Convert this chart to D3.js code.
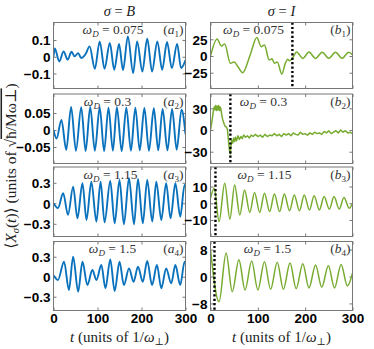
<!DOCTYPE html>
<html><head><meta charset="utf-8">
<script src="https://cdn.jsdelivr.net/npm/d3@7"></script>
<style>body{margin:0;background:#fff}</style>
</head><body><svg id="c" width="374" height="349"></svg>
<script>
// ---------------- data ----------------
const xTicks = [0, 100, 200, 300];

// (a1) sigma = B, omega_D = 0.075
const a1T = [0,3,13,23,32,41,48,56,63,73,82,94,105,116,128,138,149,158,169,181,190,202,213,224,236,247,258,269,281,290,300];
const a1V = [0,0.05,-0.028,0.032,-0.018,0.03,0.002,0.022,-0.008,0.016,0.062,-0.072,0.092,-0.072,0.082,-0.078,0.076,-0.08,0.122,-0.098,0.092,-0.088,0.108,-0.088,0.092,-0.078,0.088,-0.068,0.076,-0.068,-0.02];
// (a2) omega_D = 0.3
const a2T = [0,7,18,29,40,51,63,73,83.5,94,105,115,125,135,144,155,165.5,176,186,196,206.5,217,228,238,248,259,269.5,280,291,300];
const a2V = [0,-0.025,0.03,-0.058,0.068,-0.061,0.067,-0.062,0.068,-0.061,0.067,-0.062,0.066,-0.061,0.067,-0.062,0.066,-0.061,0.066,-0.06,0.065,-0.061,0.064,-0.06,0.062,-0.06,0.062,-0.058,0.06,-0.012];
// (a3) omega_D = 1.15
const a3T = [0,10,22,33,44.6,54.4,65.8,75,86,97.5,107,116,129,139,150,160,171.6,183,192,203,213,224.5,233.6,245,256,266,277,288,298,300];
const a3V = [0,-0.07,0.146,-0.17,0.244,-0.22,0.293,-0.244,0.317,-0.268,0.317,-0.278,0.327,-0.293,0.341,-0.307,0.366,-0.307,0.356,-0.293,0.341,-0.268,0.317,-0.244,0.293,-0.22,0.293,-0.195,0.268,0.25];
// (a4) omega_D = 1.5
const a4T = [0,10,24,35,44.6,56,65.8,77,88.4,97.5,108.8,118,129,139,150,160,171.6,182,192,203,213,224,235,245,256,267.6,277,288,298,300];
const a4V = [0.02,-0.05,0.225,-0.2,0.3,-0.225,0.225,-0.125,0.1,-0.05,0.175,-0.175,0.26,-0.215,0.225,-0.125,0.125,-0.075,0.15,-0.075,0.235,-0.125,0.175,-0.175,0.125,-0.1,0.175,-0.125,0.225,0.2];

// (b1) sigma = I, omega_D = 0.075
const b1T = [0,14,23,30,42,50,58,68,84,98,107,114,124,130,135,141,150.7,158,163,167,173,182,195,208,222,236,250,264,278,292,300];
const b1V = [0,25.5,15,18,-11,-9,-16,-25,2,27.5,14,16.5,-6,-4,-11,-9,-27,-11,-5,-7,-3.5,6,-3.6,5.8,-3.6,5.7,-3.4,5.6,-3.4,5.7,2];
// (b2) omega_D = 0.3
const b2T = [0,3,6,8,10,11,13,14,16,17,19,20,22,24,26,29,31,34,36,38,40,42,43,45,47,49,51,53,55,58,61,64,67,70,74,78,82,86,90,95,100,105,110,115,120,125,130,135,140,145,150,155,160,165,170,175,180,185,190,195,200,205,210,215,220,225,230,235,240,245,250,255,260,265,270,275,280,285,290,295,300];
const b2V = [0,12,26,32,28,34,27,33,28,34,27,32,29,20,14,8,5,4,0,-15,-28,-33,-22,-14,-18,-11,-16,-10,-15,-8,-13,-9,-12,-7,-10,-8,-11,-7,-9,-6,-9,-7,-10,-6,-9,-7,-8,-5,-8,-6,-9,-5,-7,-5,-8,-4,-6,-7,-3,-6,-5,-7,-4,-6,-3,-5,-4,-6,-2,-4,-1,-5,-3,-1,-4,0,-3,-1,-4,-3,-5];
// (b3) omega_D = 1.15
const b3T = [0,8,18,30,41,51,62,72,83,93,104,114,125,135,146,156,167,177,188,198,209,219,230,240,251,261,272,282,293,300];
const b3V = [3,9,-11,12,-9.5,11,-7,8,-5.5,6.5,-5.5,6,-5,5.5,-5,5.5,-4.5,5,-4.5,5,-4,4.5,-4,4,-3.5,4,-3.5,3.5,-3,0];
// (b4) omega_D = 1.5
const b4T = [0,18,33,46,60,73,87,100,114,127,141,154,168,181,195,208,222,235,249,262,276,289,300];
const b4V = [8,-7.5,7,-4.5,5,-4,4.6,-4,4.4,-3.8,4.2,-3.8,4,-3.6,3.8,-3.4,3.4,-3.2,3.2,-3.4,3.6,-2.8,1];

// y-axis extents and tick values
const a1Dom = [-0.19, 0.205],  a1Ticks = [-0.1, 0, 0.1],   a1Lab = ["\u22120.1", "0", "0.1"];
const a2Dom = [-0.0985, 0.106],a2Ticks = [-0.05, 0, 0.05], a2Lab = ["\u22120.05", "0", "0.05"];
const a3Dom = [-0.486, 0.531], a3Ticks = [-0.3, 0, 0.3],   a3Lab = ["\u22120.3", "0", "0.3"];
const a4Dom = [-0.507, 0.528], a4Ticks = [-0.3, 0, 0.3],   a4Lab = ["\u22120.3", "0", "0.3"];
const b1Dom = [-48.6, 50.1],   b1Ticks = [-25, 0, 25],     b1Lab = ["\u221225", "0", "25"];
const b2Dom = [-46.3, 49.8],   b2Ticks = [-30, 0, 30],     b2Lab = ["\u221230", "0", "30"];
const b3Dom = [-19.9, 21.7],   b3Ticks = [-10, 0, 10],     b3Lab = ["\u221210", "0", "10"];
const b4Dom = [-10.1, 10.4],   b4Ticks = [-8, 0, 8],       b4Lab = ["\u22128", "0", "8"];

const omegas = ["0.075", "0.3", "1.15", "1.5"];
const vlineT = [173, 42, 10.5, 8.4];   // dotted markers in sigma = I panels

// ---------------- layout ----------------
const svg = d3.select("#c");
const cols = [{x0: 53.5, x1: 185.5}, {x0: 210.5, x1: 352.5}];
const rows = [{y0: 22.5, y1: 88.5}, {y0: 94, y1: 163.5}, {y0: 167, y1: 236.5}, {y0: 241.5, y1: 310.5}];
const labCx = [[113, 107.5, 110.5, 112.5], [253.5, 263.5, 264.5, 267.5]];
const blue = "#0a72bd", green = "#77ac30";
const serif = "'Liberation Serif', 'DejaVu Serif', serif";
const sans = "'Liberation Sans', Arial, sans-serif";

const panels = [
  {T: a1T, V: a1V, dom: a1Dom, ticks: a1Ticks, lab: a1Lab},
  {T: a2T, V: a2V, dom: a2Dom, ticks: a2Ticks, lab: a2Lab},
  {T: a3T, V: a3V, dom: a3Dom, ticks: a3Ticks, lab: a3Lab},
  {T: a4T, V: a4V, dom: a4Dom, ticks: a4Ticks, lab: a4Lab},
  {T: b1T, V: b1V, dom: b1Dom, ticks: b1Ticks, lab: b1Lab},
  {T: b2T, V: b2V, dom: b2Dom, ticks: b2Ticks, lab: b2Lab},
  {T: b3T, V: b3V, dom: b3Dom, ticks: b3Ticks, lab: b3Lab},
  {T: b4T, V: b4V, dom: b4Dom, ticks: b4Ticks, lab: b4Lab}
];

panels.forEach((p, i) => {
  const c = Math.floor(i / 4), r = i % 4;
  const {x0, x1} = cols[c], {y0, y1} = rows[r];
  const x = d3.scaleLinear().domain([0, 300]).range([x0, x1]);
  const y = d3.scaleLinear().domain(p.dom).range([y1, y0]);
  const g = svg.append("g");
  const clipId = "clip" + i;
  svg.append("clipPath").attr("id", clipId).append("rect")
    .attr("x", x0).attr("y", y0).attr("width", x1 - x0).attr("height", y1 - y0);

  // inner ticks (left/right)
  const yl = d3.axisLeft(y).tickValues(p.ticks).tickSize(-3).tickFormat((d, k) => p.lab[k]);
  const gyl = g.append("g").attr("transform", `translate(${x0},0)`).call(yl);
  gyl.select(".domain").remove();
  gyl.selectAll("line").attr("stroke", "#777");
  gyl.selectAll("text").attr("x", -3).attr("dy", "0.36em")
    .attr("font-family", sans).attr("font-weight", "bold").attr("font-size", 13.5).attr("fill", "#000");
  const yr = d3.axisRight(y).tickValues(p.ticks).tickSize(-3).tickFormat("");
  const gyr = g.append("g").attr("transform", `translate(${x1},0)`).call(yr);
  gyr.select(".domain").remove();
  gyr.selectAll("line").attr("stroke", "#777");

  const xb = d3.axisBottom(x).tickValues(xTicks).tickSize(-3).tickFormat(r === 3 ? d3.format("d") : "");
  const gxb = g.append("g").attr("transform", `translate(0,${y1})`).call(xb);
  gxb.select(".domain").remove();
  gxb.selectAll("line").attr("stroke", "#777");
  gxb.selectAll("text").attr("y", 3).attr("dy", "0.71em")
    .attr("font-family", sans).attr("font-weight", "bold").attr("font-size", 13.5).attr("fill", "#000");
  const xt = d3.axisTop(x).tickValues(xTicks).tickSize(-3).tickFormat("");
  const gxt = g.append("g").attr("transform", `translate(0,${y0})`).call(xt);
  gxt.select(".domain").remove();
  gxt.selectAll("line").attr("stroke", "#777");

  // curve
  const line = d3.line().x((d, k) => x(p.T[k])).y(d => y(d))
    .curve(i === 5 ? d3.curveLinear : d3.curveMonotoneX);
  g.append("path").attr("d", line(p.V)).attr("fill", "none")
    .attr("stroke", c === 0 ? blue : green).attr("stroke-width", c === 0 ? 1.9 : 1.5)
    .attr("stroke-linejoin", "round").attr("clip-path", `url(#${clipId})`);

  // dotted marker
  if (c === 1) {
    g.append("line").attr("x1", x(vlineT[r])).attr("x2", x(vlineT[r]))
      .attr("y1", y0).attr("y2", y1).attr("stroke", "#000").attr("stroke-width", 2.4)
      .attr("stroke-dasharray", "2.2,2.2");
  }

  // frame
  g.append("rect").attr("x", x0).attr("y", y0).attr("width", x1 - x0).attr("height", y1 - y0)
    .attr("fill", "none").attr("stroke", "#777").attr("stroke-width", 1);

  // labels
  const t1 = g.append("text").attr("x", labCx[c][r]).attr("y", y0 + 11.5)
    .attr("text-anchor", "middle").attr("font-family", serif).attr("font-size", 13.5).attr("fill", "#333");
  t1.append("tspan").attr("font-style", "italic").text("\u03c9");
  t1.append("tspan").attr("font-style", "italic").attr("font-size", 9).attr("dy", 3).text("D");
  t1.append("tspan").attr("dy", -3).text(" = " + omegas[r]);

  const t2 = g.append("text").attr("x", x1 - 2).attr("y", y0 + 11.5)
    .attr("text-anchor", "end").attr("font-family", serif).attr("font-size", 13.5).attr("fill", "#333");
  t2.append("tspan").text("(");
  t2.append("tspan").attr("font-style", "italic").text(c === 0 ? "a" : "b");
  t2.append("tspan").attr("font-size", 9).attr("dy", 3).text(String(r + 1));
  t2.append("tspan").attr("dy", -3).text(")");
});

// column titles
[["B", 119.5], ["I", 281.5]].forEach(([s, cx]) => {
  const t = svg.append("text").attr("x", cx).attr("y", 16).attr("text-anchor", "middle")
    .attr("font-family", serif).attr("font-size", 14.5).attr("fill", "#222");
  t.append("tspan").attr("font-style", "italic").text("\u03c3");
  t.append("tspan").text(" = ");
  t.append("tspan").attr("font-style", "italic").text(s);
});

// x titles
cols.forEach(cc => {
  const t = svg.append("text").attr("x", (cc.x0 + cc.x1) / 2).attr("y", 342).attr("text-anchor", "middle")
    .attr("font-family", serif).attr("font-size", 15).attr("fill", "#222");
  t.append("tspan").attr("font-style", "italic").text("t");
  t.append("tspan").text(" (units of 1/");
  t.append("tspan").attr("font-style", "italic").text("\u03c9");
  t.append("tspan").attr("font-size", 10).attr("dy", 3).text("\u22a5");
  t.append("tspan").attr("dy", -3).text(")");
});

// y title
const yt = svg.append("text").attr("transform", "translate(15.5,166) rotate(-90)")
  .attr("text-anchor", "middle").attr("font-family", serif).attr("font-size", 15.5).attr("fill", "#222");
yt.append("tspan").text("\u27e8");
yt.append("tspan").attr("font-style", "italic").text("X");
yt.append("tspan").attr("font-style", "italic").attr("font-size", 10.5).attr("dy", 3).text("\u03c3");
yt.append("tspan").attr("dy", -3).text("(");
yt.append("tspan").attr("font-style", "italic").text("t");
yt.append("tspan").text(")\u27e9 (units of \u221a");
yt.append("tspan").attr("style", "text-decoration: overline").text("\u0127/M\u03c9\u22a5");
yt.append("tspan").text(")");
</script></body></html>
